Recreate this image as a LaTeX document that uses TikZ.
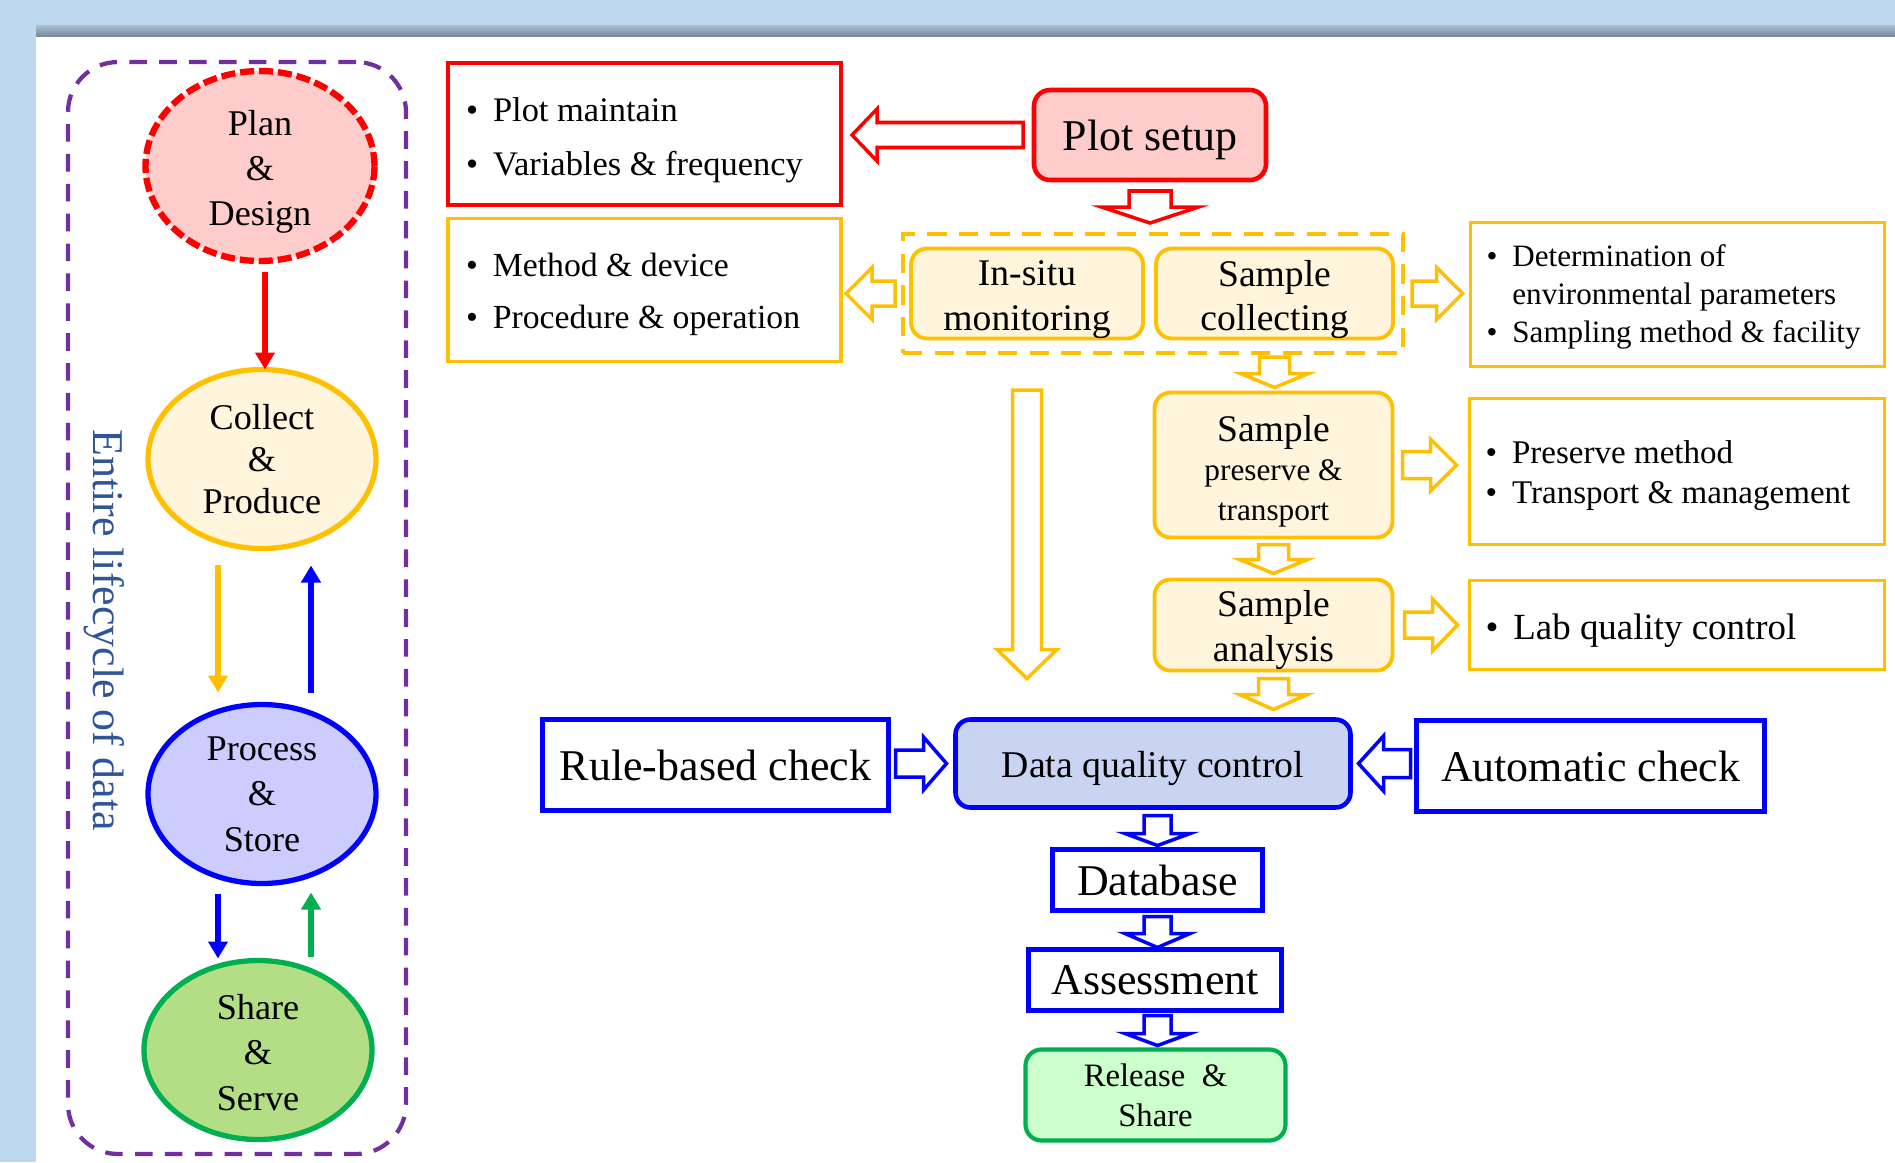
\documentclass[tikz,border=0pt]{standalone}
\usepackage{fontspec}
\setmainfont{Liberation Serif}
\usetikzlibrary{shapes.geometric,arrows.meta,calc}

\definecolor{bgblue}{RGB}{189,215,238}
\definecolor{bandtop}{RGB}{170,190,208}
\definecolor{bandbot}{RGB}{118,134,150}
\definecolor{lifepurple}{RGB}{112,48,160}
\definecolor{pinkfill}{RGB}{255,204,204}
\definecolor{orng}{RGB}{255,192,0}
\definecolor{creamfill}{RGB}{255,245,220}
\definecolor{bluefill}{RGB}{204,204,255}
\definecolor{grn}{RGB}{0,176,80}
\definecolor{greenfill}{RGB}{180,222,134}
\definecolor{dqcfill}{RGB}{201,212,243}
\definecolor{relfill}{RGB}{204,255,204}
\definecolor{lifeblue}{RGB}{47,85,151}

% hollow block arrow: #1 style, #2 tail, #3 tip, #4 shaft half width, #5 head half width, #6 head length
\newcommand\hollowarrow[6]{%
  \coordinate (ha-t) at #2;
  \coordinate (ha-p) at #3;
  \coordinate (ha-b) at ($(ha-p)!#6!(ha-t)$);
  \draw[#1] ($(ha-t)!#4!90:(ha-p)$) -- ($(ha-b)!#4!-90:(ha-t)$) -- ($(ha-b)!#5!-90:(ha-t)$)
    -- (ha-p) -- ($(ha-b)!#5!90:(ha-t)$) -- ($(ha-b)!#4!90:(ha-t)$) -- ($(ha-t)!#4!-90:(ha-p)$) -- cycle;}
\newcommand\mybul{\textbullet\hspace{1.5mm}}
\newcommand\mybulsp{\phantom{\textbullet}\hspace{1.5mm}}

\begin{document}
\begin{tikzpicture}[x=0.1mm,y=-0.1mm,
  every node/.style={outer sep=0pt},
  tx/.style={inner sep=0pt, align=center, text=black},
  lx/.style={inner sep=0pt, align=left, anchor=west, text=black},
  ellfont/.style={font={\fontsize{10.3}{12.9}\selectfont}},
  ell/.style={ellipse, draw, line width=1.5pt, inner sep=0pt, minimum width=22.8mm, minimum height=17.9mm},
  lcarrow/.style={line width=0.6mm, -{Triangle[length=1.7mm,width=1.9mm]}},
  sqbox/.style={draw, rectangle, inner sep=0pt, align=center},
  rbox/.style={draw, rectangle, rounded corners=1.6mm, inner sep=0pt},
  listbox/.style={draw, rectangle, inner sep=0pt},
  harrow/.style={fill=white, line width=1pt, line join=miter},
  bigfont/.style={font={\fontsize{12.5}{15}\selectfont}},
  midfont/.style={font={\fontsize{10.7}{12.8}\selectfont}}]
\useasboundingbox (0,0) rectangle (1895,1162);
\fill[bgblue] (0,0) rectangle (1895,1162);
\shade[top color=bandtop,bottom color=bandbot] (36,25) rectangle (1895,37);
\fill[white] (36,37) rectangle (1895,1162);

% ---------- left panel ----------
\node[draw=lifepurple, line width=1.2pt, dash pattern=on 5pt off 3.5pt, rounded corners=5mm,
  minimum width=33.8mm, minimum height=109.2mm] (life) at (237,608) {};
\node[ell, draw=red, line width=1.8pt, dash pattern=on 4pt off 1.4pt, fill=pinkfill,
  minimum width=22.9mm, minimum height=19mm,
  label={[tx, ellfont, yshift=-0.6mm]center:{Plan\\\&\\Design}}] (plan) at (260,166) {};
\node[ell, draw=orng, fill=creamfill,
  label={[tx, font={\fontsize{10.3}{11.9}\selectfont}]center:{Collect\\\&\\Produce}}] (collect) at (262,459) {};
\node[ell, draw=blue, fill=bluefill,
  label={[tx, ellfont]center:{Process\\\&\\Store}}] (process) at (262,794) {};
\node[ell, draw=grn, fill=greenfill,
  label={[tx, ellfont, yshift=-0.25mm]center:{Share\\\&\\Serve}}] (share) at (258,1050) {};
\node[rotate=-90, text=lifeblue, font={\fontsize{12.5}{15}\selectfont}] (lifelabel) at (104,630) {Entire lifecycle of data};

\draw[lcarrow, red] ($(plan.south)+(5,11)$) -- ($(plan.south|-collect.north)+(5,0)$);
\draw[lcarrow, orng] ($(collect.south)+(-44,16)$) -- ($(collect.south|-process.north)+(-44,-12)$);
\draw[lcarrow, blue] ($(process.north)+(49,-12)$) -- ($(process.north|-collect.south)+(49,17)$);
\draw[lcarrow, blue] ($(process.south)+(-44,10)$) -- ($(process.south|-share.north)+(-44,-2)$);
\draw[lcarrow, grn] ($(share.north)+(53,-4)$) -- ($(share.north|-process.south)+(53,9)$);

% ---------- right flow ----------
\node[listbox, draw=red, line width=1.2pt, minimum width=39.3mm, minimum height=14.2mm,
  label={[lx, font={\fontsize{9.8}{15.4}\selectfont}, xshift=1.8mm, yshift=-0.6mm]west:{\mybul Plot maintain\\\mybul Variables \& frequency}}]
  (plotm) at (644.5,134) {};
\node[rbox, draw=red, line width=1.3pt, fill=pinkfill, minimum width=23.2mm, minimum height=9.0mm,
  label={[tx, bigfont, yshift=-0.5mm]center:{Plot setup}}] (plotsetup) at (1150,135) {};

\node[draw=orng, line width=1.4pt, dash pattern=on 5.5pt off 3.5pt, minimum width=50.0mm,
  minimum height=11.9mm] (grp) at (1153,293.5) {};
\node[rbox, draw=orng, line width=1.1pt, fill=creamfill, minimum width=23.2mm, minimum height=9.0mm,
  label={[tx, midfont, yshift=-0.6mm]center:{In-situ\\monitoring}}] (insitu) at (1027,293.5) {};
\node[rbox, draw=orng, line width=1.1pt, fill=creamfill, minimum width=23.7mm, minimum height=9.0mm,
  label={[tx, midfont, yshift=-0.6mm]center:{Sample\\collecting}}] (sampcol) at (1274.5,293.5) {};

\node[listbox, draw=orng, line width=1.1pt, minimum width=39.3mm, minimum height=14.3mm,
  label={[lx, font={\fontsize{9.6}{14.8}\selectfont}, xshift=1.8mm, yshift=-0.4mm]west:{\mybul Method \& device\\\mybul Procedure \& operation}}]
  (methodbox) at (644.5,290) {};
\node[listbox, draw=orng, line width=1.1pt, minimum width=41.4mm, minimum height=14.4mm,
  label={[lx, font={\fontsize{8.85}{10.8}\selectfont}, xshift=1.6mm, yshift=-0.25mm]west:{\mybul Determination of\\\mybulsp environmental parameters\\\mybul Sampling method \& facility}}]
  (detbox) at (1677.5,294.5) {};

\node[rbox, draw=orng, line width=1.1pt, fill=creamfill, minimum width=23.8mm, minimum height=14.5mm,
  label={[tx, font={\fontsize{8.9}{11.2}\selectfont}, yshift=-0.6mm]center:{{\fontsize{10.7}{11.2}\selectfont Sample}\\preserve \&\\transport}}]
  (spt) at (1273.5,465) {};
\node[listbox, draw=orng, line width=1.1pt, minimum width=41.5mm, minimum height=14.6mm,
  label={[lx, font={\fontsize{9.4}{11.4}\selectfont}, xshift=1.6mm, yshift=-0.4mm]west:{\mybul Preserve method\\\mybul Transport \& management}}]
  (presbox) at (1677,471.5) {};

\node[rbox, draw=orng, line width=1.1pt, fill=creamfill, minimum width=23.8mm, minimum height=9.1mm,
  label={[tx, midfont, yshift=-0.5mm]center:{Sample\\analysis}}] (sa) at (1273.5,625) {};
\node[listbox, draw=orng, line width=1.1pt, minimum width=41.5mm, minimum height=8.9mm,
  label={[lx, font={\fontsize{10.5}{12.8}\selectfont}, xshift=1.6mm, yshift=-0.6mm]west:{\mybul Lab quality control}}]
  (labbox) at (1677,625) {};

\node[rbox, draw=blue, line width=1.3pt, fill=dqcfill, rounded corners=1.5mm, minimum width=39.5mm,
  minimum height=8.8mm,
  label={[tx, font={\fontsize{10.75}{12.8}\selectfont}, yshift=-0.5mm]center:{Data quality control}}]
  (dqc) at (1153,763.5) {};
\node[sqbox, draw=blue, line width=1.3pt, minimum width=34.6mm, minimum height=9.1mm, bigfont]
  (rule) at (715.5,765) {Rule-based check};
\node[sqbox, draw=blue, line width=1.3pt, minimum width=34.8mm, minimum height=9.1mm, bigfont]
  (auto) at (1590.5,766) {Automatic check};
\node[sqbox, draw=blue, line width=1.3pt, minimum width=21.0mm, minimum height=6.1mm, bigfont]
  (db) at (1157.5,880) {Database};
\node[sqbox, draw=blue, line width=1.3pt, minimum width=25.3mm, minimum height=6.1mm, bigfont]
  (assess) at (1155,980) {Assessment};
\node[rbox, draw=grn, line width=1.2pt, fill=relfill, minimum width=26.0mm, minimum height=9.1mm,
  label={[tx, font={\fontsize{9.3}{11.4}\selectfont}]center:{Release\ \ \&\\Share}}]
  (release) at (1155.5,1095) {};

% ---------- block arrows ----------
\hollowarrow{harrow,draw=red}{($(plotsetup.west)+(-11,0)$)}{($(plotm.east|-plotsetup.west)+(11,0)$)}{1.25mm}{2.6mm}{2.5mm}
\hollowarrow{harrow,draw=red}{($(plotsetup.south)+(0,11)$)}{($(plotsetup.south|-grp.north)+(0,-11)$)}{2.1mm}{4.85mm}{1.6mm}
\hollowarrow{harrow,draw=orng}{($(grp.west)+(-8,0)$)}{($(methodbox.east|-grp.west)+(5,0)$)}{1.25mm}{2.6mm}{2.6mm}
\hollowarrow{harrow,draw=orng}{($(grp.east)+(9,0)$)}{($(detbox.west|-grp.east)+(-8,0)$)}{1.25mm}{2.6mm}{2.6mm}
\hollowarrow{harrow,draw=orng}{($(sampcol.south|-grp.south)+(0,4)$)}{($(sampcol.south|-spt.north)+(0,-5)$)}{1.5mm}{3.4mm}{1.4mm}
\hollowarrow{harrow,draw=orng}{($(spt.south)+(0,7)$)}{($(sa.north)+(0,-6)$)}{1.5mm}{3.4mm}{1.4mm}
\hollowarrow{harrow,draw=orng}{($(sa.south)+(0,8)$)}{($(sa.south|-dqc.north)+(0,-10)$)}{1.5mm}{3.4mm}{1.5mm}
\hollowarrow{harrow,draw=orng}{($(insitu.south|-grp.south)+(0,37)$)}{($(insitu.south|-dqc.north)+(0,-41)$)}{1.45mm}{3.0mm}{2.9mm}
\hollowarrow{harrow,draw=orng}{($(spt.east)+(10,0)$)}{($(presbox.west|-spt.east)+(-13,0)$)}{1.35mm}{2.6mm}{2.6mm}
\hollowarrow{harrow,draw=orng}{($(sa.east)+(12,0)$)}{($(labbox.west|-sa.east)+(-12,0)$)}{1.3mm}{2.6mm}{2.5mm}
\hollowarrow{harrow,draw=blue}{($(rule.east|-dqc.west)+(7,0)$)}{($(dqc.west)+(-9,0)$)}{1.35mm}{2.65mm}{2.3mm}
\hollowarrow{harrow,draw=blue}{($(auto.west|-dqc.east)+(-6,0)$)}{($(dqc.east)+(8,0)$)}{1.4mm}{2.75mm}{2.5mm}
\hollowarrow{harrow,draw=blue}{($(db.north|-dqc.south)+(0,8)$)}{($(db.north)+(0,-4)$)}{1.35mm}{3.25mm}{1.2mm}
\hollowarrow{harrow,draw=blue}{($(db.south)+(0,6)$)}{($(db.south|-assess.north)+(0,-2)$)}{1.35mm}{3.25mm}{1.4mm}
\hollowarrow{harrow,draw=blue}{($(db.south|-assess.south)+(0,5)$)}{($(db.south|-release.north)+(0,-4)$)}{1.35mm}{3.25mm}{1.2mm}
\end{tikzpicture}
\end{document}
